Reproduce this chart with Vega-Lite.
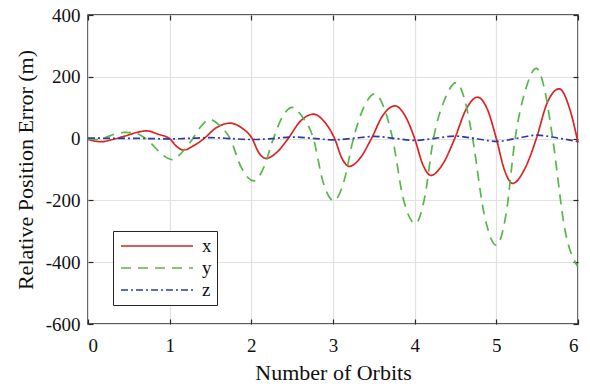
{
  "$schema": "https://vega.github.io/schema/vega-lite/v6.json",
  "width": 490,
  "height": 309,
  "autosize": "none",
  "padding": {"left": 88, "top": 15, "right": 12, "bottom": 62},
  "background": "white",
  "config": {
    "font": "Liberation Serif",
    "view": {"stroke": "#262626", "strokeWidth": 1.5},
    "axis": {
      "gridColor": "#e2e2e2",
      "gridWidth": 1.2,
      "domain": false,
      "tickColor": "#262626",
      "tickWidth": 1.2,
      "tickSize": -5,
      "labelFont": "Liberation Serif",
      "labelFontSize": 19,
      "labelColor": "#111111",
      "labelExpr": "replace(datum.label, '\u2212', '-')",
      "titleFont": "Liberation Serif",
      "titleFontSize": 22,
      "titleFontWeight": "normal",
      "titleColor": "#111111"
    }
  },
  "data": {
    "values": [
      {"t": 0, "v": -3, "s": "x"}, {"t": 0.08, "v": -8, "s": "x"}, {"t": 0.17, "v": -10, "s": "x"}, {"t": 0.3, "v": -3, "s": "x"},
      {"t": 0.45, "v": 8, "s": "x"}, {"t": 0.6, "v": 20, "s": "x"}, {"t": 0.72, "v": 25, "s": "x"}, {"t": 0.86, "v": 14, "s": "x"},
      {"t": 1.0, "v": 0, "s": "x"}, {"t": 1.08, "v": -24, "s": "x"}, {"t": 1.17, "v": -37, "s": "x"}, {"t": 1.3, "v": -22, "s": "x"},
      {"t": 1.42, "v": 0, "s": "x"}, {"t": 1.57, "v": 35, "s": "x"}, {"t": 1.74, "v": 50, "s": "x"}, {"t": 1.88, "v": 35, "s": "x"},
      {"t": 2.01, "v": 0, "s": "x"}, {"t": 2.09, "v": -45, "s": "x"}, {"t": 2.18, "v": -64, "s": "x"}, {"t": 2.31, "v": -45, "s": "x"},
      {"t": 2.45, "v": 0, "s": "x"}, {"t": 2.6, "v": 56, "s": "x"}, {"t": 2.76, "v": 79, "s": "x"}, {"t": 2.89, "v": 56, "s": "x"},
      {"t": 3.02, "v": 0, "s": "x"}, {"t": 3.11, "v": -64, "s": "x"}, {"t": 3.2, "v": -90, "s": "x"}, {"t": 3.33, "v": -64, "s": "x"},
      {"t": 3.47, "v": 0, "s": "x"}, {"t": 3.61, "v": 75, "s": "x"}, {"t": 3.76, "v": 106, "s": "x"}, {"t": 3.88, "v": 75, "s": "x"},
      {"t": 4.0, "v": 0, "s": "x"}, {"t": 4.1, "v": -84, "s": "x"}, {"t": 4.2, "v": -119, "s": "x"}, {"t": 4.34, "v": -84, "s": "x"},
      {"t": 4.49, "v": 0, "s": "x"}, {"t": 4.63, "v": 95, "s": "x"}, {"t": 4.77, "v": 134, "s": "x"}, {"t": 4.89, "v": 95, "s": "x"},
      {"t": 5.0, "v": 0, "s": "x"}, {"t": 5.1, "v": -102, "s": "x"}, {"t": 5.2, "v": -145, "s": "x"}, {"t": 5.34, "v": -102, "s": "x"},
      {"t": 5.49, "v": 0, "s": "x"}, {"t": 5.62, "v": 114, "s": "x"}, {"t": 5.77, "v": 161, "s": "x"}, {"t": 5.9, "v": 95, "s": "x"},
      {"t": 6.0, "v": -13, "s": "x"},

      {"t": 0, "v": 0, "s": "y"}, {"t": 0.1, "v": -3, "s": "y"}, {"t": 0.2, "v": 2, "s": "y"}, {"t": 0.32, "v": 14, "s": "y"},
      {"t": 0.45, "v": 20, "s": "y"}, {"t": 0.58, "v": 18, "s": "y"}, {"t": 0.68, "v": 5, "s": "y"}, {"t": 0.77, "v": -15, "s": "y"},
      {"t": 0.9, "v": -50, "s": "y"}, {"t": 1.03, "v": -68, "s": "y"}, {"t": 1.15, "v": -45, "s": "y"}, {"t": 1.27, "v": -5, "s": "y"},
      {"t": 1.37, "v": 35, "s": "y"}, {"t": 1.49, "v": 62, "s": "y"}, {"t": 1.6, "v": 45, "s": "y"}, {"t": 1.74, "v": 0, "s": "y"},
      {"t": 1.88, "v": -95, "s": "y"}, {"t": 2.03, "v": -137, "s": "y"}, {"t": 2.15, "v": -95, "s": "y"}, {"t": 2.27, "v": 0, "s": "y"},
      {"t": 2.38, "v": 70, "s": "y"}, {"t": 2.5, "v": 101, "s": "y"}, {"t": 2.62, "v": 72, "s": "y"}, {"t": 2.76, "v": 0, "s": "y"},
      {"t": 2.88, "v": -142, "s": "y"}, {"t": 3.01, "v": -201, "s": "y"}, {"t": 3.13, "v": -142, "s": "y"}, {"t": 3.25, "v": 0, "s": "y"},
      {"t": 3.38, "v": 103, "s": "y"}, {"t": 3.51, "v": 145, "s": "y"}, {"t": 3.62, "v": 103, "s": "y"}, {"t": 3.73, "v": 0, "s": "y"},
      {"t": 3.86, "v": -194, "s": "y"}, {"t": 4.01, "v": -275, "s": "y"}, {"t": 4.12, "v": -194, "s": "y"}, {"t": 4.23, "v": 0, "s": "y"},
      {"t": 4.37, "v": 128, "s": "y"}, {"t": 4.51, "v": 181, "s": "y"}, {"t": 4.61, "v": 128, "s": "y"}, {"t": 4.71, "v": 0, "s": "y"},
      {"t": 4.85, "v": -243, "s": "y"}, {"t": 5.0, "v": -345, "s": "y"}, {"t": 5.12, "v": -243, "s": "y"}, {"t": 5.23, "v": 0, "s": "y"},
      {"t": 5.36, "v": 160, "s": "y"}, {"t": 5.49, "v": 227, "s": "y"}, {"t": 5.59, "v": 160, "s": "y"}, {"t": 5.69, "v": 0, "s": "y"},
      {"t": 5.84, "v": -295, "s": "y"}, {"t": 6.0, "v": -416, "s": "y"},

      {"t": 0, "v": 2, "s": "z"}, {"t": 0.25, "v": 1, "s": "z"}, {"t": 0.5, "v": 1, "s": "z"}, {"t": 0.75, "v": 0, "s": "z"},
      {"t": 1.0, "v": -1, "s": "z"}, {"t": 1.25, "v": 1, "s": "z"}, {"t": 1.5, "v": 3, "s": "z"}, {"t": 1.75, "v": 0, "s": "z"},
      {"t": 2.0, "v": -3, "s": "z"}, {"t": 2.25, "v": 0, "s": "z"}, {"t": 2.5, "v": 5, "s": "z"}, {"t": 2.75, "v": 1, "s": "z"},
      {"t": 3.0, "v": -4, "s": "z"}, {"t": 3.25, "v": 1, "s": "z"}, {"t": 3.5, "v": 7, "s": "z"}, {"t": 3.75, "v": 1, "s": "z"},
      {"t": 4.0, "v": -6, "s": "z"}, {"t": 4.25, "v": 1, "s": "z"}, {"t": 4.5, "v": 8, "s": "z"}, {"t": 4.75, "v": 0, "s": "z"},
      {"t": 5.0, "v": -9, "s": "z"}, {"t": 5.25, "v": 1, "s": "z"}, {"t": 5.5, "v": 11, "s": "z"}, {"t": 5.75, "v": 2, "s": "z"},
      {"t": 6.0, "v": -10, "s": "z"}
    ]
  },
  "layer": [
    {
      "mark": {"type": "line", "strokeWidth": 1.7, "interpolate": "monotone"},
      "encoding": {
        "x": {
          "field": "t", "type": "quantitative",
          "scale": {"domain": [0, 6], "nice": false},
          "axis": {"values": [0, 1, 2, 3, 4, 5, 6], "title": "Number of Orbits", "labelPadding": 17, "titleY": 55, "titleBaseline": "alphabetic"}
        },
        "y": {
          "field": "v", "type": "quantitative",
          "scale": {"domain": [-600, 400], "nice": false},
          "axis": {"values": [-600, -400, -200, 0, 200, 400], "title": "Relative Position Error (m)", "labelPadding": 13, "titleX": -63, "titleY": 154.5, "titleBaseline": "middle"}
        },
        "color": {
          "field": "s", "type": "nominal",
          "scale": {"domain": ["x", "y", "z"], "range": ["#dd2222", "#55b84a", "#2f3aa6"]},
          "legend": {
            "orient": "none", "legendX": 25, "legendY": 216, "title": null,
            "symbolType": "M-4,0H4", "symbolSize": 324, "symbolStrokeWidth": 1.7,
            "symbolFillColor": "transparent",
            "symbolOffset": 29, "labelOffset": 35,
            "labelFontSize": 19, "labelFont": "Liberation Serif", "labelColor": "#111111",
            "strokeColor": "#262626", "fillColor": "white", "padding": 5, "rowPadding": 2
          }
        },
        "strokeDash": {
          "field": "s", "type": "nominal",
          "scale": {"domain": ["x", "y", "z"], "range": [[1, 0], [10, 7], [7, 3, 2, 3]]},
          "legend": null
        }
      }
    },
    {
      "mark": {"type": "line", "opacity": 0},
      "encoding": {
        "x": {"field": "t", "type": "quantitative", "axis": {"orient": "top", "values": [0, 1, 2, 3, 4, 5, 6], "labels": false, "grid": false, "title": null}},
        "y": {"field": "v", "type": "quantitative", "axis": {"orient": "right", "values": [-600, -400, -200, 0, 200, 400], "labels": false, "grid": false, "title": null}},
        "detail": {"field": "s"}
      }
    }
  ],
  "resolve": {"axis": {"x": "independent", "y": "independent"}}
}
